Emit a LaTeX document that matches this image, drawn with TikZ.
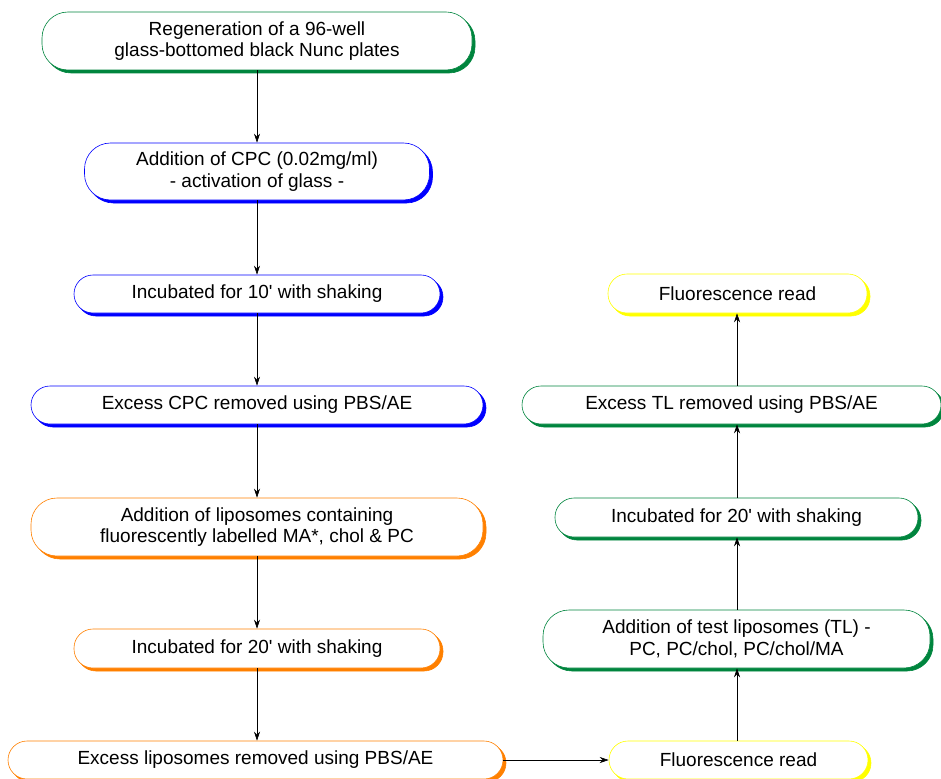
\documentclass[tikz,border=0pt]{standalone}
\usepackage{fontspec}
\setmainfont{Liberation Sans}
\usetikzlibrary{shadows,arrows.meta}
\definecolor{cgreen}{RGB}{0,133,62}
\definecolor{cblue}{RGB}{0,0,255}
\definecolor{corange}{RGB}{255,128,0}
\definecolor{cyellow}{RGB}{255,255,0}
\tikzset{
  box/.style={draw=#1, line width=0.6pt, fill=white, rounded corners=19pt, align=center,
    font=\fontsize{19}{21.5}\selectfont, inner sep=0pt,
    copy shadow={shadow xshift=3pt, shadow yshift=-3pt, fill=#1, draw=#1}},
  tall/.style={rounded corners=26pt},
  link/.style={draw=black, line width=0.6pt, -{Stealth[length=9pt,width=6pt]}},
}
\begin{document}
\begin{tikzpicture}[x=1pt,y=-1pt]
\useasboundingbox (0,0) rectangle (941,778);
\node[box=cgreen, tall, minimum width=430pt, minimum height=58pt] (n1) at (257,41) {Regeneration of a 96-well\\glass-bottomed black Nunc plates};
\node[box=cblue, tall, minimum width=345pt, minimum height=57pt] (n2) at (257,171.5) {Addition of CPC (0.02mg/ml)\\- activation of glass -};
\node[box=cblue, minimum width=366pt, minimum height=38pt] (n3) at (257,294) {Incubated for 10\textquotesingle{} with shaking};
\node[box=cblue, minimum width=452pt, minimum height=38pt] (n4) at (257,405) {Excess CPC removed using PBS/AE};
\node[box=corange, tall, minimum width=452pt, minimum height=58pt] (n5) at (257,527) {Addition of liposomes containing\\fluorescently labelled MA*, chol \& PC};
\node[box=corange, minimum width=366pt, minimum height=39pt] (n6) at (257,648.5) {Incubated for 20\textquotesingle{} with shaking};
\node[box=corange, minimum width=495pt, minimum height=38pt] (n7) at (255.5,760) {Excess liposomes removed using PBS/AE};
\node[box=cyellow, minimum width=259pt, minimum height=38pt] (n8) at (738.5,760) {Fluorescence read};
\node[box=cgreen, tall, minimum width=387pt, minimum height=58pt] (n9) at (736.5,639) {Addition of test liposomes (TL) -\\PC, PC/chol, PC/chol/MA};
\node[box=cgreen, minimum width=363pt, minimum height=39pt] (n10) at (736.5,517.5) {Incubated for 20\textquotesingle{} with shaking};
\node[box=cgreen, minimum width=419pt, minimum height=38pt] (n11) at (731.5,405) {Excess TL removed using PBS/AE};
\node[box=cyellow, minimum width=259pt, minimum height=39pt] (n12) at (737.5,293.5) {Fluorescence read};
\draw[link] (n1.south -| 257,0) -- (n2.north -| 257,0);
\draw[link] (n2) -- (n3);
\draw[link] (n3) -- (n4);
\draw[link] (n4) -- (n5);
\draw[link] (n5) -- (n6);
\draw[link] (n6) -- (n7.north -| n6.south);
\draw[link] (n7) -- (n8);
\draw[link] (n8.north -| 737,0) -- (n9.south -| 737,0);
\draw[link] (n9.north -| 737,0) -- (n10.south -| 737,0);
\draw[link] (n10.north -| 737,0) -- (n11.south -| 737,0);
\draw[link] (n11.north -| 737,0) -- (n12.south -| 737,0);
\end{tikzpicture}
\end{document}
